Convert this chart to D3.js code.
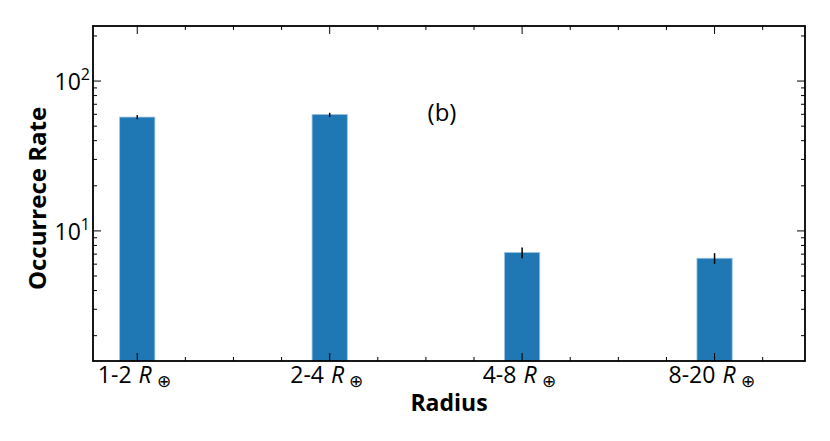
<!DOCTYPE html>
<html><head><meta charset="utf-8">
<script src="https://cdn.jsdelivr.net/npm/d3@7"></script>
<style>body{margin:0;background:#fff}svg{display:block}text{font-family:"Open Sans","Noto Sans",sans-serif}</style>
</head><body>
<svg id="c" width="830" height="441"></svg>
<script>
const categories = ["1-2", "2-4", "4-8", "8-20"];
const rates = [57.5, 59.9, 7.17, 6.57];
const errLow = [55.7, 57.7, 6.57, 6.03];
const errHigh = [59.3, 61.4, 7.74, 7.10];
const yTicks = [10, 100];

const svg = d3.select("#c");
const L = 93, R = 805, T = 26, B = 361;
const x = d3.scaleLinear().domain([-0.23, 3.47]).range([L, R]);
const y = d3.scaleLog().domain([1.355, 233]).range([B, T]);
const bw = x(0.183) - x(0);

// bars
svg.append("g").selectAll("rect").data(rates).join("rect")
  .attr("x", (d, i) => x(i) - bw / 2).attr("width", bw)
  .attr("y", d => y(d)).attr("height", d => B - y(d))
  .attr("fill", "#1f77b4").attr("stroke", "#9cc3e2").attr("stroke-width", 0.8);

// error bars
svg.append("g").selectAll("line").data(rates).join("line")
  .attr("x1", (d, i) => x(i)).attr("x2", (d, i) => x(i))
  .attr("y1", (d, i) => y(errLow[i])).attr("y2", (d, i) => y(errHigh[i]))
  .attr("stroke", "#000").attr("stroke-width", 1.5);

// y ticks (log major + minor), inward both sides
const minor = [];
for (const dec of [1, 10, 100]) for (let k = 2; k <= 9; k++) { const v = dec * k; if (v >= 1.355 && v <= 233) minor.push(v); }
const gt = svg.append("g").attr("stroke", "#000");
minor.forEach(v => {
  gt.append("line").attr("x1", L).attr("x2", L + 4).attr("y1", y(v)).attr("y2", y(v)).attr("stroke-width", 1);
  gt.append("line").attr("x1", R).attr("x2", R - 4).attr("y1", y(v)).attr("y2", y(v)).attr("stroke-width", 1);
});
yTicks.forEach(v => {
  gt.append("line").attr("x1", L).attr("x2", L + 8).attr("y1", y(v)).attr("y2", y(v)).attr("stroke-width", 1);
  gt.append("line").attr("x1", R).attr("x2", R - 8).attr("y1", y(v)).attr("y2", y(v)).attr("stroke-width", 1);
});
// x ticks
for (let m = -0.25; m <= 3.5; m += 0.25) {
  const px = x(m);
  if (px < L || px > R) continue;
  const major = Math.abs(m - Math.round(m)) < 1e-6;
  const len = major ? 8 : 4;
  gt.append("line").attr("x1", px).attr("x2", px).attr("y1", B).attr("y2", B - len).attr("stroke-width", 1);
  gt.append("line").attr("x1", px).attr("x2", px).attr("y1", T).attr("y2", T + len).attr("stroke-width", 1);
}

// frame
svg.append("rect").attr("x", L).attr("y", T).attr("width", R - L).attr("height", B - T)
  .attr("fill", "none").attr("stroke", "#000").attr("stroke-width", 1.8);

// y tick labels
yTicks.forEach(v => {
  const t = svg.append("text").attr("x", L - 3).attr("y", y(v) + 9).attr("text-anchor", "end")
    .attr("font-size", 23).attr("fill", "#000");
  t.append("tspan").text("10");
  t.append("tspan").attr("dy", -10).attr("font-size", 16).text(Math.round(Math.log10(v)));
});

// x tick labels
categories.forEach((c, i) => {
  const t = svg.append("text").attr("x", x(i) - 3).attr("y", 383).attr("text-anchor", "middle")
    .attr("font-size", 23).attr("fill", "#000");
  t.append("tspan").text(c);
  t.append("tspan").attr("dx", 7).attr("font-style", "italic").text("R");
  t.append("tspan").attr("dx", 5).attr("dy", 4).attr("font-size", 17).text("\u2295");
});

// axis titles
svg.append("text").attr("x", (L + R) / 2).attr("y", 411).attr("text-anchor", "middle")
  .attr("font-size", 23).attr("font-weight", "bold").text("Radius");
svg.append("text").attr("transform", `translate(46,${(T + B) / 2 + 5}) rotate(-90)`).attr("text-anchor", "middle")
  .attr("font-size", 24).attr("font-weight", "bold").text("Occurrece Rate");

// panel label
svg.append("text").attr("x", 442).attr("y", 121).attr("text-anchor", "middle")
  .attr("font-size", 24).text("(b)");
</script>
</body></html>
